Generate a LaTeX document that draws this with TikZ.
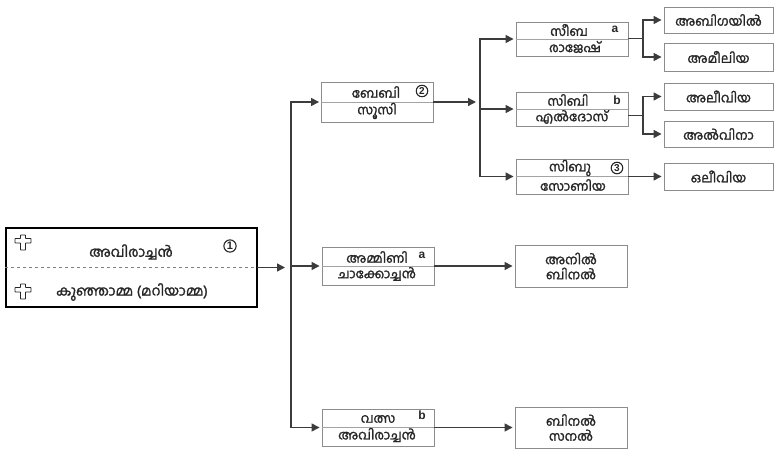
\documentclass[tikz,border=0pt]{standalone}
\usepackage{fontspec}
\newfontfamily\mlfont[Script=Malayalam, FakeBold=1.6]{Hind Kochi}
\newfontfamily\latfont{Liberation Sans}
\usetikzlibrary{arrows.meta, positioning, calc}

\definecolor{linegray}{HTML}{3C3C3C}
\definecolor{boxgray}{HTML}{8C8C8C}
\definecolor{txt}{HTML}{262626}

\tikzset{
	couple/.style={draw=boxgray, line width=0.9pt, minimum width=112pt, inner sep=0pt},
	leaf/.style={draw=boxgray, line width=0.9pt, minimum width=109pt, inner sep=0pt, align=center,
		text=txt, font=\mlfont\fontsize{13}{15}\selectfont},
	person/.style={inner sep=0pt, text=txt, font=\mlfont\fontsize{13}{15}\selectfont},
	tag/.style={inner sep=0pt, text=txt, font=\latfont\bfseries\fontsize{12}{13}\selectfont},
	num/.style={circle, draw=txt, line width=1.1pt, inner sep=0.9pt, text=txt,
		font=\latfont\bfseries\fontsize{10}{11}\selectfont},
	link/.style={draw=linegray, line width=1.4pt, line cap=rect},
	arr/.style={link, -{Triangle[length=8pt,width=8pt]}, shorten >=2pt},
	crossmk/.pic={
		\draw[txt, line width=0.9pt, rounded corners=0.6pt]
		(-2.5,-7) -- (2.5,-7) -- (2.5,-3.5) -- (8,-3.5) -- (8,1) -- (2.5,1) -- (2.5,8)
		-- (-2.5,8) -- (-2.5,1) -- (-8,1) -- (-8,-3.5) -- (-2.5,-3.5) -- cycle;
	},
}

\begin{document}
\begin{tikzpicture}[x=1pt, y=-1pt]

	\useasboundingbox (0,0) rectangle (774,449);

	% first couple
	\node[draw=black, line width=1.3pt, minimum width=251pt, minimum height=79pt] (root) at (131.5,267.5) {};
	\draw[gray, dashed, line width=0.8pt] (root.west) -- (root.east);
	\pic at (23,242) {crossmk};
	\pic at (23,291) {crossmk};
	\node[person, font=\mlfont\fontsize{14}{16}\selectfont] (rootA) at (131,252) {അവിരാച്ചൻ};
	\node[person, font=\mlfont\fontsize{14}{16}\selectfont] (rootB) at (132,292) {കുഞ്ഞാമ്മ (മറിയാമ്മ)};
	\node[num, font=\latfont\bfseries\fontsize{11}{12}\selectfont] (n1) at (230,246) {1};

	% children
	\node[couple, minimum height=40pt] (baby) at (377.5,102) {};
	\node[couple, minimum height=38pt] (ammini) at (378,266) {};
	\node[couple, minimum height=37pt] (valsa) at (378,427.5) {};

	% grandchildren
	\node[couple, minimum height=34pt] (siba) at (572,39) {};
	\node[couple, minimum height=34pt] (sibi) at (572,109) {};
	\node[couple, minimum height=35pt] (sibu) at (572,176.5) {};
	\node[leaf, minimum width=112pt, minimum height=42pt] (anil) at (571,266) {അനിൽ\\ബിനൽ};
	\node[leaf, minimum width=112pt, minimum height=41pt] (binal) at (571,427.5) {ബിനൽ\\സനൽ};

	% great-grandchildren
	\node[leaf, minimum height=26pt] (abigail) at (718.5,20) {അബിഗയിൽ};
	\node[leaf, minimum height=28pt] (amelia) at (718.5,57) {അമീലിയ};
	\node[leaf, minimum height=27pt] (alivia) at (718.5,96.5) {അലീവിയ};
	\node[leaf, minimum height=26pt] (alvina) at (718.5,134) {അൽവിനാ};
	\node[leaf, minimum height=27pt] (olivia) at (718.5,176.5) {ഒലീവിയ};

	\foreach \n in {baby, ammini, valsa, siba, sibi, sibu}
		\draw[boxgray!80, line width=0.8pt] (\n.west) -- (\n.east);

	% names in the couple boxes
	\node[person] (babyA) at (376,92) {ബേബി};
	\node[person] (babyB) at (377,111) {സൂസി};
	\node[num] (n2) at (422,91) {2};
	\node[person] (amminiA) at (377,257) {അമ്മിണി};
	\node[person] (amminiB) at (377,274) {ചാക്കോച്ചൻ};
	\node[tag] (ta1) at (422,255) {a};
	\node[person] (valsaA) at (378,419) {വത്സ};
	\node[person] (valsaB) at (377,435) {അവിരാച്ചൻ};
	\node[tag] (tb1) at (422,415) {b};
	\node[person] (sibaA) at (569,30) {സീബ};
	\node[person] (sibaB) at (575,47) {രാജേഷ്};
	\node[tag] (ta2) at (615,29) {a};
	\node[person] (sibiA) at (568,100) {സിബി};
	\node[person] (sibiB) at (572,117) {എൽദോസ്};
	\node[tag] (tb2) at (617,100) {b};
	\node[person] (sibuA) at (570,168) {സിബു};
	\node[person] (sibuB) at (573,185) {സോണിയ};
	\node[num] (n3) at (617,168) {3};

	% connectors
	\coordinate (bus1) at (291,0);
	\coordinate (bus2) at (480,0);
	\coordinate (bus3) at (643,0);

	\draw[arr, shorten >=6pt] (root.east) -- (root.east -| bus1);
	\draw[link] (bus1 |- baby) -- (bus1 |- valsa);
	\foreach \n in {baby, ammini, valsa}
		\draw[arr] (bus1 |- \n) -- (\n.west);

	\draw[arr, shorten >=4pt] (baby.east) -- (baby.east -| bus2);
	\draw[link] (bus2 |- siba) -- (bus2 |- sibu);
	\foreach \n in {siba, sibi, sibu}
		\draw[arr] (bus2 |- \n) -- (\n.west);

	\foreach \p/\a/\b in {siba/abigail/amelia, sibi/alivia/alvina} {
		\coordinate (\p-m) at ($(\a.west)!.5!(\b.west)$);
		\draw[link] (\p.east |- \p-m) -- (bus3 |- \p-m);
		\draw[link] (bus3 |- \a) -- (bus3 |- \b);
		\draw[arr] (bus3 |- \a) -- (\a.west);
		\draw[arr] (bus3 |- \b) -- (\b.west);
	}

	\draw[arr] (sibu.east) -- (olivia.west);
	\draw[arr] (ammini.east) -- (anil.west);
	\draw[arr] (valsa.east) -- (binal.west);

\end{tikzpicture}
\end{document}
